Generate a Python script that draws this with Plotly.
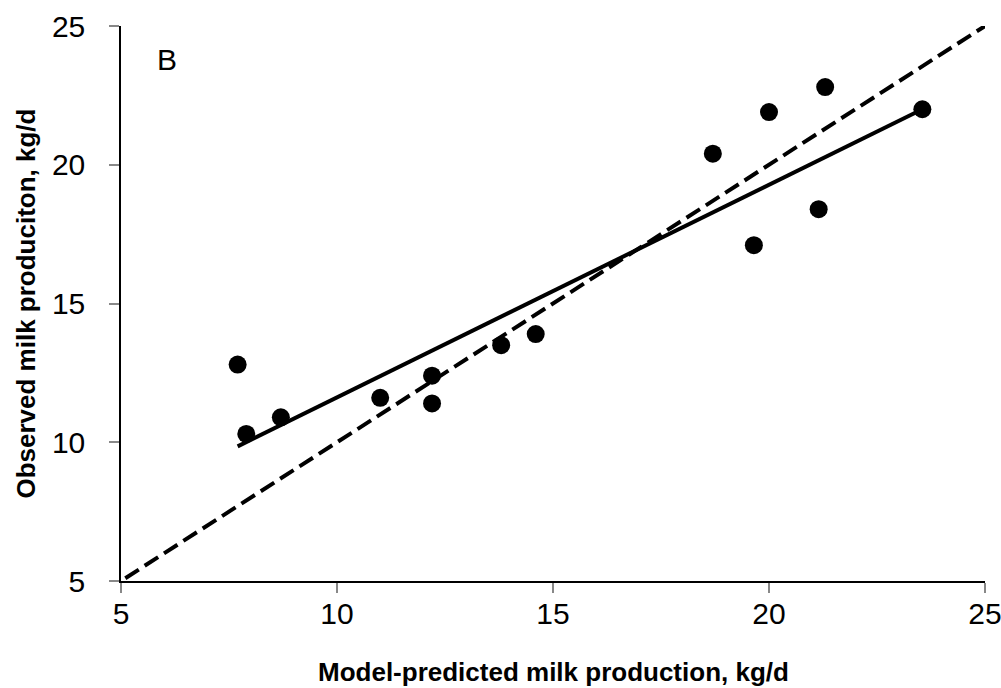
import plotly.graph_objects as go

# Observed vs model-predicted milk production (kg/d)
predicted = [7.7, 7.9, 8.7, 11.0, 12.2, 12.2, 13.8, 14.6, 18.7, 20.0, 21.3, 19.65, 21.15, 23.55]
observed = [12.8, 10.3, 10.9, 11.6, 12.4, 11.4, 13.5, 13.9, 20.4, 21.9, 22.8, 17.1, 18.4, 22.0]

# Regression line endpoints
fit_x = [7.7, 23.55]
fit_y = [9.85, 22.0]

# 1:1 line
unity_x = [5.1, 25]
unity_y = [5.1, 25]

tick_vals = [5, 10, 15, 20, 25]

x_title = "Model-predicted milk production, kg/d"
y_title = "Observed milk produciton, kg/d"
panel_label = "B"

fig = go.Figure()
fig.add_trace(go.Scatter(x=unity_x, y=unity_y, mode="lines",
                         line=dict(color="black", width=4, dash="16px,7px"),
                         showlegend=False, hoverinfo="skip"))
fig.add_trace(go.Scatter(x=fit_x, y=fit_y, mode="lines",
                         line=dict(color="black", width=4),
                         showlegend=False, hoverinfo="skip"))
fig.add_trace(go.Scatter(x=predicted, y=observed, mode="markers",
                         marker=dict(color="black", size=18),
                         showlegend=False))

font_family = "Liberation Sans, Arial, sans-serif"
axis_common = dict(range=[5, 25], tickvals=tick_vals, showgrid=False, zeroline=False,
                   showline=True, linecolor="black", linewidth=1.5,
                   ticks="outside", ticklen=10, tickcolor="#888888", tickwidth=1.5,
                   tickfont=dict(size=30, family=font_family), automargin=False,
                   ticklabeloverflow="allow")

fig.update_layout(
    width=1001, height=688,
    margin=dict(l=121, r=16, t=26, b=107),
    paper_bgcolor="white", plot_bgcolor="white",
    font=dict(family=font_family, color="black"),
    xaxis=dict(**axis_common, ticklabelstandoff=-5),
    yaxis=dict(**axis_common, ticklabelstandoff=18),
    annotations=[
        dict(x=0.039, y=0.94, xref="paper", yref="paper", text=panel_label,
             showarrow=False, font=dict(size=30, family=font_family),
             xanchor="left", yanchor="middle"),
        dict(x=0.5, y=-0.164, xref="paper", yref="paper", text="<b>" + x_title + "</b>",
             showarrow=False, font=dict(size=26, family=font_family),
             xanchor="center", yanchor="middle"),
        dict(x=-0.111, y=0.5, xref="paper", yref="paper", text="<b>" + y_title + "</b>",
             showarrow=False, font=dict(size=26, family=font_family), textangle=-90,
             xanchor="center", yanchor="middle"),
    ],
)

fig.write_html(
    "out.html",
    config={"displayModeBar": False},
    post_script="document.body.style.margin='0';document.body.style.padding='0';",
)
